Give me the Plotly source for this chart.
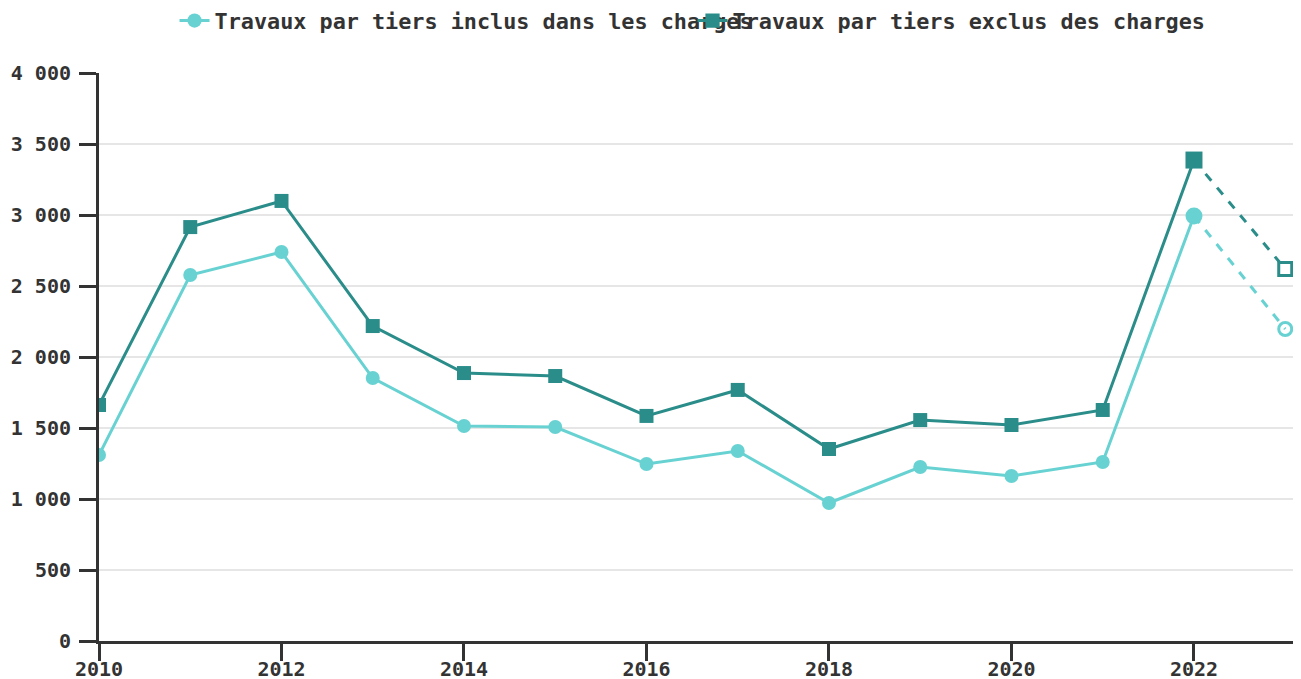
import plotly.graph_objects as go

years = [2010, 2011, 2012, 2013, 2014, 2015, 2016, 2017, 2018, 2019, 2020, 2021, 2022, 2023]
inclus = [1310, 2577, 2739, 1852, 1514, 1507, 1246, 1338, 972, 1225, 1162, 1261, 2993, 2197]
exclus = [1662, 2915, 3099, 2218, 1887, 1866, 1585, 1768, 1352, 1556, 1521, 1627, 3387, 2620]
names = ["Travaux par tiers inclus dans les charges", "Travaux par tiers exclus des charges"]
y_ticks = [0, 500, 1000, 1500, 2000, 2500, 3000, 3500, 4000]
x_ticks = [2010, 2012, 2014, 2016, 2018, 2020, 2022]

LIGHT = "#68d2d2"
DARK = "#2a8d8a"
FONT = "DejaVu Sans Mono"
AX = "#333333"

fig = go.Figure()
series = [(inclus, LIGHT, "circle", names[0]), (exclus, DARK, "square", names[1])]
for vals, col, sym, nm in series:
    fig.add_trace(go.Scatter(
        x=years[:-1], y=vals[:-1], mode="lines+markers", name=nm,
        line=dict(color=col, width=3),
        marker=dict(symbol=sym, size=[14] * 12 + [17], color=col, opacity=1,
                    line=dict(width=0)),
        legendgroup=nm,
    ))
    fig.add_trace(go.Scatter(
        x=years[-2:], y=vals[-2:], mode="lines+markers", showlegend=False,
        line=dict(color=col, width=3, dash="dash"),
        marker=dict(symbol=[sym, sym + "-open"], size=[0, 13], color=col, opacity=1,
                    line=dict(width=3, color=col)),
        legendgroup=nm,
    ))

fig.update_layout(
    width=1301, height=679,
    margin=dict(l=91, r=11, t=65, b=46, autoexpand=False),
    paper_bgcolor="white", plot_bgcolor="white",
    separators=", ",
    font=dict(family=FONT, size=20, color=AX, weight="bold"),
    legend=dict(orientation="h", xref="container", x=0.128, xanchor="left",
                yref="container", y=0.981, yanchor="middle",
                entrywidth=473, font=dict(size=21.8, weight="bold", color=AX),
                itemwidth=30, traceorder="normal"),
    xaxis=dict(range=[2010, 2023.14], tickvals=x_ticks, showgrid=False,
               showline=True, linecolor=AX, linewidth=3,
               ticks="outside", ticklen=17, tickwidth=3, tickcolor=AX,
               ticklabelstandoff=-9,
               zeroline=False, automargin=False),
    yaxis=dict(range=[0, 4000], tickvals=y_ticks, tickformat=",d",
               showgrid=True, gridcolor="#e6e6e6", gridwidth=1.5,
               showline=True, linecolor=AX, linewidth=3,
               ticks="outside", ticklen=17, tickwidth=3, tickcolor=AX,
               ticklabelstandoff=4,
               zeroline=False, automargin=False),
)

fig.write_html("out.html")
